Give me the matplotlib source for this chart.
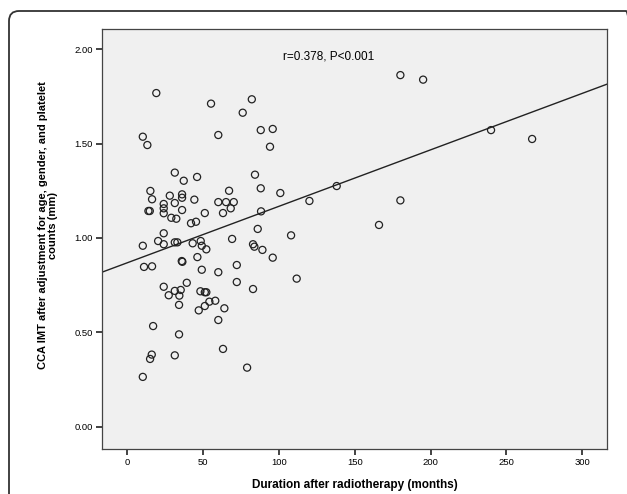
import numpy as np
import matplotlib
matplotlib.use("Agg")
import matplotlib.pyplot as plt
from matplotlib.patches import FancyBboxPatch
from matplotlib.transforms import IdentityTransform

plt.rcParams["font.family"] = ["Liberation Sans", "DejaVu Sans"]

# ── Data (months, mm) ─────────────────────────────────────────────────────────
duration = [
    19.1, 55.2, 82.1, 76.1, 10.2, 13.2, 60.0, 88.0, 95.9, 94.1,
    31.3, 46.0, 37.2, 84.2, 15.2, 88.0, 100.9, 16.3, 28.0, 36.1,
    36.1, 44.2, 67.1, 31.3, 24.0, 60.0, 65.1, 70.2, 68.2, 24.0,
    13.9, 14.8, 24.0, 36.1, 51.1, 63.1, 88.2, 29.0, 32.3, 42.0,
    45.3, 86.0, 24.0, 10.2, 20.3, 24.0, 31.3, 33.0, 43.1, 48.4,
    49.1, 52.1, 69.1, 82.9, 83.8, 89.1, 108.0, 95.9, 46.2, 35.9,
    36.3, 11.0, 16.3, 49.1, 60.0, 72.2, 72.2, 111.7, 39.2, 24.0,
    31.3, 35.2, 27.3, 34.3, 48.2, 51.1, 52.1, 82.9, 34.1, 47.1,
    51.1, 54.1, 58.0, 64.0, 60.0, 17.0, 34.1, 63.1, 16.1, 15.0,
    31.3, 79.0, 10.2, 180.1, 195.1, 120.1, 138.1, 239.9, 267.0, 180.1,
    166.0,
]
imt = [
    1.767, 1.711, 1.734, 1.663, 1.536, 1.492, 1.545, 1.571, 1.577, 1.483,
    1.346, 1.323, 1.303, 1.335, 1.249, 1.263, 1.238, 1.205, 1.224, 1.231,
    1.213, 1.203, 1.250, 1.185, 1.180, 1.190, 1.190, 1.190, 1.157, 1.157,
    1.143, 1.143, 1.131, 1.148, 1.132, 1.132, 1.141, 1.107, 1.102, 1.078,
    1.086, 1.048, 1.025, 0.959, 0.984, 0.967, 0.977, 0.977, 0.972, 0.984,
    0.959, 0.940, 0.995, 0.967, 0.954, 0.937, 1.014, 0.896, 0.899, 0.878,
    0.874, 0.847, 0.850, 0.832, 0.819, 0.857, 0.767, 0.785, 0.763, 0.742,
    0.720, 0.725, 0.697, 0.695, 0.718, 0.713, 0.713, 0.730, 0.646, 0.617,
    0.640, 0.663, 0.668, 0.628, 0.566, 0.534, 0.490, 0.413, 0.383, 0.360,
    0.379, 0.314, 0.265, 1.862, 1.838, 1.196, 1.275, 1.571, 1.524, 1.199,
    1.069,
]

fit_intercept = 0.869   # fitted line
fit_slope = 0.002987

x_ticks = [0, 50, 100, 150, 200, 250, 300]
y_ticks = [0.0, 0.5, 1.0, 1.5, 2.0]

# ── Figure ────────────────────────────────────────────────────────────────────
fig = plt.figure(figsize=(6.27, 4.94), dpi=100)
ax = fig.add_axes([0.1632, 0.0917, 0.8054, 0.8496])
ax.set_facecolor("#f0f0f0")

ax.scatter(duration, imt, s=26, facecolors="none", edgecolors="#222222",
           linewidths=0.9, zorder=3)
ax.axline((0, fit_intercept), slope=fit_slope, color="#222222", linewidth=1.0, zorder=2)

ax.set_xlim(-16.5, 316.6)
ax.set_ylim(-0.115, 2.106)
ax.set_xticks(x_ticks)
ax.set_yticks(y_ticks)
ax.set_yticklabels([f"{v:.2f}" for v in y_ticks])
ax.tick_params(labelsize=6.8, length=4, width=1.2, color="#222222", pad=3)
for side in ax.spines.values():
    side.set_color("#444444")
    side.set_linewidth(0.9)

ax.text(102.7, 1.958, "r=0.378, P<0.001", fontsize=8.5, va="center", ha="left")

ax.set_xlabel("Duration after radiotherapy (months)", fontsize=8.5,
              fontweight="bold", labelpad=8)
fig.text(48 / 627, 1 - 225 / 494,
         "CCA IMT after adjustment for age, gender, and platelet\ncounts (mm)",
         rotation=90, ha="center", va="center", multialignment="center",
         fontsize=8, fontweight="bold", linespacing=1.0)

# rounded frame around the panel (cut off on the right and bottom)
frame = FancyBboxPatch((9, -20), 627, 503,
                       boxstyle="round,pad=0,rounding_size=10",
                       transform=IdentityTransform(), fill=False,
                       edgecolor="#333333", linewidth=1.3)
fig.add_artist(frame)

plt.savefig("out.png", dpi=100)
